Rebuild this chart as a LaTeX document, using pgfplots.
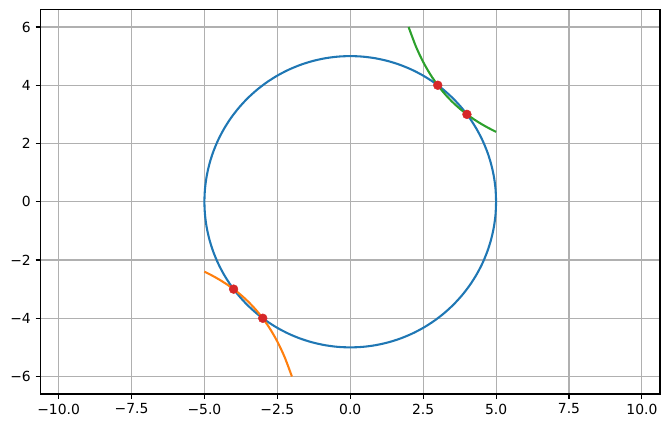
\documentclass[border=0pt]{standalone}
\usepackage{fontspec}
\setmainfont{DejaVu Sans}
\usepackage{pgfplots}
\pgfplotsset{compat=1.18}
\definecolor{c0}{HTML}{1F77B4}
\definecolor{c1}{HTML}{FF7F0E}
\definecolor{c2}{HTML}{2CA02C}
\definecolor{c3}{HTML}{D62728}
\begin{document}
\fontsize{13.9bp}{16bp}\selectfont
\begin{tikzpicture}
\begin{axis}[
  scale only axis, width=619.5bp, height=384.5bp,
  xmin=-10.62, xmax=10.62, ymin=-6.6, ymax=6.6,
  xtick={-10,-7.5,-5,-2.5,0,2.5,5,7.5,10},
  xticklabels={−10.0,−7.5,−5.0,−2.5,0.0,2.5,5.0,7.5,10.0},
  ytick={-6,-4,-2,0,2,4,6},
  yticklabels={−6,−4,−2,0,2,4,6},
  grid=major,
  major grid style={color=black!31, line width=1.1bp},
  axis line style={line width=1.1bp},
  tick style={black, line width=1.1bp},
  tick align=outside, major tick length=4.9bp,
  xtick pos=bottom, ytick pos=left,
  tick label style={font=\fontsize{13.9bp}{16bp}\selectfont},
  clip=true,
]
\addplot[c0, smooth, line width=2.08bp] coordinates {
(5,0) (4.9810,0.4358) (4.9240,0.8682) (4.8296,1.2941) (4.6985,1.7101) (4.5315,2.1131) (4.3301,2.5) (4.0958,2.8679) (3.8302,3.2139) (3.5355,3.5355) (3.2139,3.8302) (2.8679,4.0958) (2.5,4.3301) (2.1131,4.5315) (1.7101,4.6985) (1.2941,4.8296) (0.8682,4.9240) (0.4358,4.9810) (0,5)
(-0.4358,4.9810) (-0.8682,4.9240) (-1.2941,4.8296) (-1.7101,4.6985) (-2.1131,4.5315) (-2.5,4.3301) (-2.8679,4.0958) (-3.2139,3.8302) (-3.5355,3.5355) (-3.8302,3.2139) (-4.0958,2.8679) (-4.3301,2.5) (-4.5315,2.1131) (-4.6985,1.7101) (-4.8296,1.2941) (-4.9240,0.8682) (-4.9810,0.4358) (-5,0)
(-4.9810,-0.4358) (-4.9240,-0.8682) (-4.8296,-1.2941) (-4.6985,-1.7101) (-4.5315,-2.1131) (-4.3301,-2.5) (-4.0958,-2.8679) (-3.8302,-3.2139) (-3.5355,-3.5355) (-3.2139,-3.8302) (-2.8679,-4.0958) (-2.5,-4.3301) (-2.1131,-4.5315) (-1.7101,-4.6985) (-1.2941,-4.8296) (-0.8682,-4.9240) (-0.4358,-4.9810) (0,-5)
(0.4358,-4.9810) (0.8682,-4.9240) (1.2941,-4.8296) (1.7101,-4.6985) (2.1131,-4.5315) (2.5,-4.3301) (2.8679,-4.0958) (3.2139,-3.8302) (3.5355,-3.5355) (3.8302,-3.2139) (4.0958,-2.8679) (4.3301,-2.5) (4.5315,-2.1131) (4.6985,-1.7101) (4.8296,-1.2941) (4.9240,-0.8682) (4.9810,-0.4358) (5,0)
};
\addplot[c1, smooth, line width=2.08bp] coordinates {
(-5,-2.4) (-4.75,-2.5263) (-4.5,-2.6667) (-4.25,-2.8235) (-4,-3) (-3.75,-3.2) (-3.5,-3.4286) (-3.25,-3.6923) (-3,-4) (-2.75,-4.3636) (-2.5,-4.8) (-2.25,-5.3333) (-2,-6)
};
\addplot[c2, smooth, line width=2.08bp] coordinates {
(2,6) (2.25,5.3333) (2.5,4.8) (2.75,4.3636) (3,4) (3.25,3.6923) (3.5,3.4286) (3.75,3.2) (4,3) (4.25,2.8235) (4.5,2.6667) (4.75,2.5263) (5,2.4)
};
\addplot[only marks, mark=*, mark size=4.4bp, mark options={fill=c3, draw=c3, line width=0.5bp}] coordinates {
(3,4) (4,3) (-3,-4) (-4,-3)
};
\end{axis}
\useasboundingbox ([xshift=-40.5bp,yshift=-34bp]current axis.south west) rectangle ([xshift=10bp,yshift=9.5bp]current axis.north east);
\end{tikzpicture}
\end{document}
